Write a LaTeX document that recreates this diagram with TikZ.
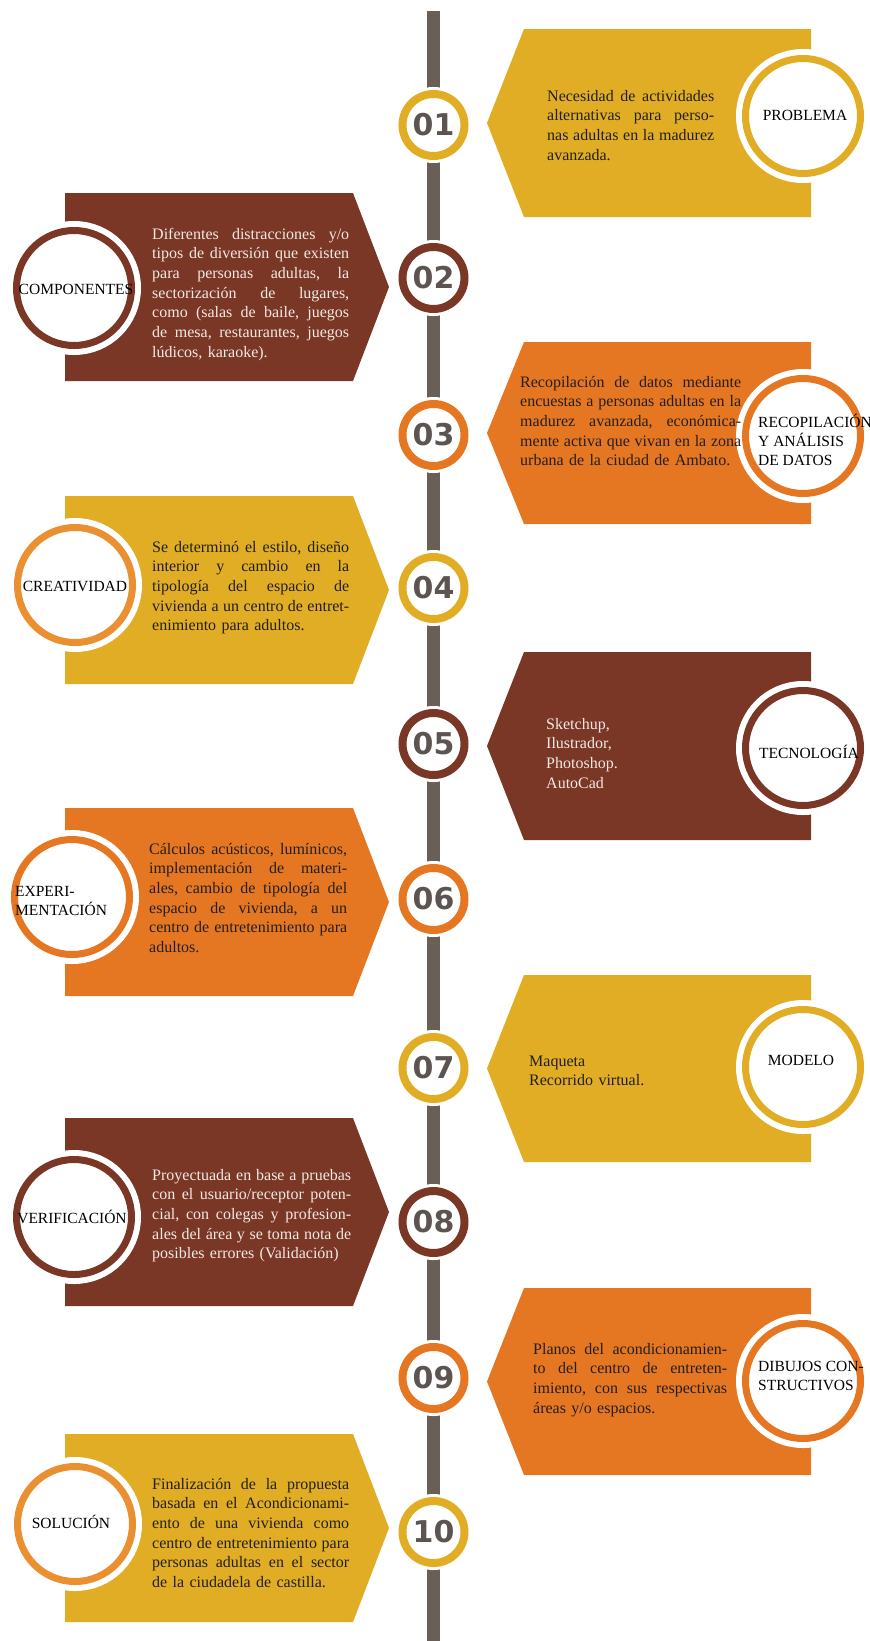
\documentclass[tikz,border=0pt]{standalone}
\usepackage{fontspec}
\setmainfont{Liberation Serif}
\newfontfamily\numfont{DejaVu Sans}
\usetikzlibrary{calc}

\definecolor{goldc}{HTML}{E0AD24}
\definecolor{brownc}{HTML}{7A3726}
\definecolor{orangec}{HTML}{E57722}
\definecolor{paleorange}{HTML}{EA9030}
\definecolor{barc}{HTML}{6A5F57}
\definecolor{numc}{HTML}{5C5450}
\definecolor{darktext}{HTML}{231F20}
\definecolor{lighttext}{HTML}{F2E9E4}

% one justified line of a description
\newcommand\jl[1]{\makebox[\hsize][s]{\frenchspacing
	\spaceskip=\fontdimen2\font plus 1fil\relax
	\xspaceskip=\spaceskip #1}\\}

\tikzset{
	timeline/.style={barc, line width=13pt},
	body text/.style={
		anchor=base west,
		inner sep=0pt,
		align=left,
		font=\fontsize{16}{19.7}\selectfont
	},
	dark text/.style={body text, text=darktext},
	light text/.style={body text, text=lighttext},
	step number/.style={
		circle,
		draw=#1,
		line width=8pt,
		fill=white,
		minimum size=62pt,
		inner sep=0pt,
		preaction={draw=white, line width=14pt},
		text=numc,
		font=\numfont\bfseries\fontsize{30}{30}\selectfont
	},
	title circle/.style={
		circle,
		draw=#1,
		line width=7pt,
		fill=white,
		minimum size=115pt,
		inner sep=0pt,
		preaction={draw=white, line width=19pt}
	},
	title label/.style={
		inner sep=0pt,
		align=left,
		text=black,
		font=\fontsize{15.5}{19}\selectfont
	}
}

\begin{document}
\begin{tikzpicture}[x=1pt, y=-1pt]

	% --- background and page size ---
	\fill[white] (0,0) rectangle (870,1641);
	\useasboundingbox (0,0) rectangle (870,1641);

	% --- the timeline ---
	\coordinate (bar top) at (433.5,11);
	\coordinate (bar bottom) at (433.5,1641);
	\draw[timeline] (bar top) -- (bar bottom);

	% --- panels on the right (odd steps) ---
	\foreach \t/\b/\c in {29/217/goldc, 342/524/orangec, 652/840/brownc,
		975/1162/goldc, 1288/1475/orangec} {
		\fill[\c] (524,\t) -- (811,\t) -- (811,\b) -- (524,\b)
			-- (487,{(\t+\b)/2}) -- cycle;
	}

	% --- panels on the left (even steps) ---
	\foreach \t/\b/\c in {193/381/brownc, 496/684/goldc, 808/996/orangec,
		1118/1306/brownc, 1434/1622/goldc} {
		\fill[\c] (65,\t) -- (353,\t) -- (389,{(\t+\b)/2}) -- (353,\b)
			-- (65,\b) -- cycle;
	}

	% --- step numbers on the timeline ---
	\foreach \n/\y/\c in {01/125/goldc, 02/278/brownc, 03/435/orangec,
		04/588/goldc, 05/744/brownc, 06/899/orangec, 07/1068/goldc,
		08/1222/brownc, 09/1378/orangec, 10/1532/goldc} {
		\node[step number=\c] (n\n) at (433.5,\y) {\n};
	}

	% --- title circles ---
	\node[title circle=goldc] (c1) at (803,116) {};
	\node[title circle=brownc] (c2) at (74,288) {};
	\node[title circle=orangec] (c3) at (803,436) {};
	\node[title circle=paleorange] (c4) at (75,585) {};
	\node[title circle=brownc] (c5) at (803,748) {};
	\node[title circle=orangec] (c6) at (72,897) {};
	\node[title circle=goldc] (c7) at (803,1067) {};
	\node[title circle=brownc] (c8) at (74,1217) {};
	\node[title circle=orangec] (c9) at (803,1381) {};
	\node[title circle=paleorange] (c10) at (75,1524) {};

	% --- titles ---
	\node[title label] (l1) at (805,115) {PROBLEMA};
	\node[title label] (l2) at (76,289) {COMPONENTES};
	\node[title label, anchor=west] (l3) at (758,440)
		{RECOPILACIÓN\\Y ANÁLISIS\\DE DATOS};
	\node[title label] (l4) at (75,586) {CREATIVIDAD};
	\node[title label] (l5) at (809,752) {TECNOLOGÍA};
	\node[title label, anchor=west] (l6) at (15,901)
		{EXPERI-\\MENTACIÓN};
	\node[title label] (l7) at (801,1060) {MODELO};
	\node[title label] (l8) at (72,1217) {VERIFICACIÓN};
	\node[title label, anchor=west] (l9) at (758,1376)
		{DIBUJOS CON-\\STRUCTIVOS};
	\node[title label] (l10) at (71,1522) {SOLUCIÓN};

	% --- descriptions ---
	\node[dark text, text width=167pt] (d1) at (547,101) {%
		\jl{Necesidad de actividades}
		\jl{alternativas para perso-}
		\jl{nas adultas en la madurez}
		avanzada.};
	\node[light text, text width=197pt] (d2) at (152,239) {%
		\jl{Diferentes distracciones y/o}
		\jl{tipos de diversión que existen}
		\jl{para personas adultas, la}
		\jl{sectorización de lugares,}
		\jl{como (salas de baile, juegos}
		\jl{de mesa, restaurantes, juegos}
		lúdicos, karaoke).};
	\node[dark text, text width=221pt] (d3) at (520,387) {%
		\jl{Recopilación de datos mediante}
		\jl{encuestas a personas adultas en la}
		\jl{madurez avanzada, económica-}
		\jl{mente activa que vivan en la zona}
		urbana de la ciudad de Ambato.};
	\node[dark text, text width=197pt] (d4) at (152,552) {%
		\jl{Se determinó el estilo, diseño}
		\jl{interior y cambio en la}
		\jl{tipología del espacio de}
		\jl{vivienda a un centro de entret-}
		enimiento para adultos.};
	\node[light text, text width=150pt] (d5) at (546,729) {%
		Sketchup,\\Ilustrador,\\Photoshop.\\AutoCad};
	\node[dark text, text width=198pt] (d6) at (149,854) {%
		\jl{Cálculos acústicos, lumínicos,}
		\jl{implementación de materi-}
		\jl{ales, cambio de tipología del}
		\jl{espacio de vivienda, a un}
		\jl{centro de entretenimiento para}
		adultos.};
	\node[dark text, text width=180pt] (d7) at (529,1066) {%
		Maqueta\\Recorrido virtual.};
	\node[light text, text width=199pt] (d8) at (152,1180) {%
		\jl{Proyectuada en base a pruebas}
		\jl{con el usuario/receptor poten-}
		\jl{cial, con colegas y profesion-}
		\jl{ales del área y se toma nota de}
		posibles errores (Validación)};
	\node[dark text, text width=194pt] (d9) at (533,1354) {%
		\jl{Planos del acondicionamien-}
		\jl{to del centro de entreten-}
		\jl{imiento, con sus respectivas}
		áreas y/o espacios.};
	\node[dark text, text width=197pt] (d10) at (152,1489) {%
		\jl{Finalización de la propuesta}
		\jl{basada en el Acondicionami-}
		\jl{ento de una vivienda como}
		\jl{centro de entretenimiento para}
		\jl{personas adultas en el sector}
		de la ciudadela de castilla.};

\end{tikzpicture}
\end{document}
